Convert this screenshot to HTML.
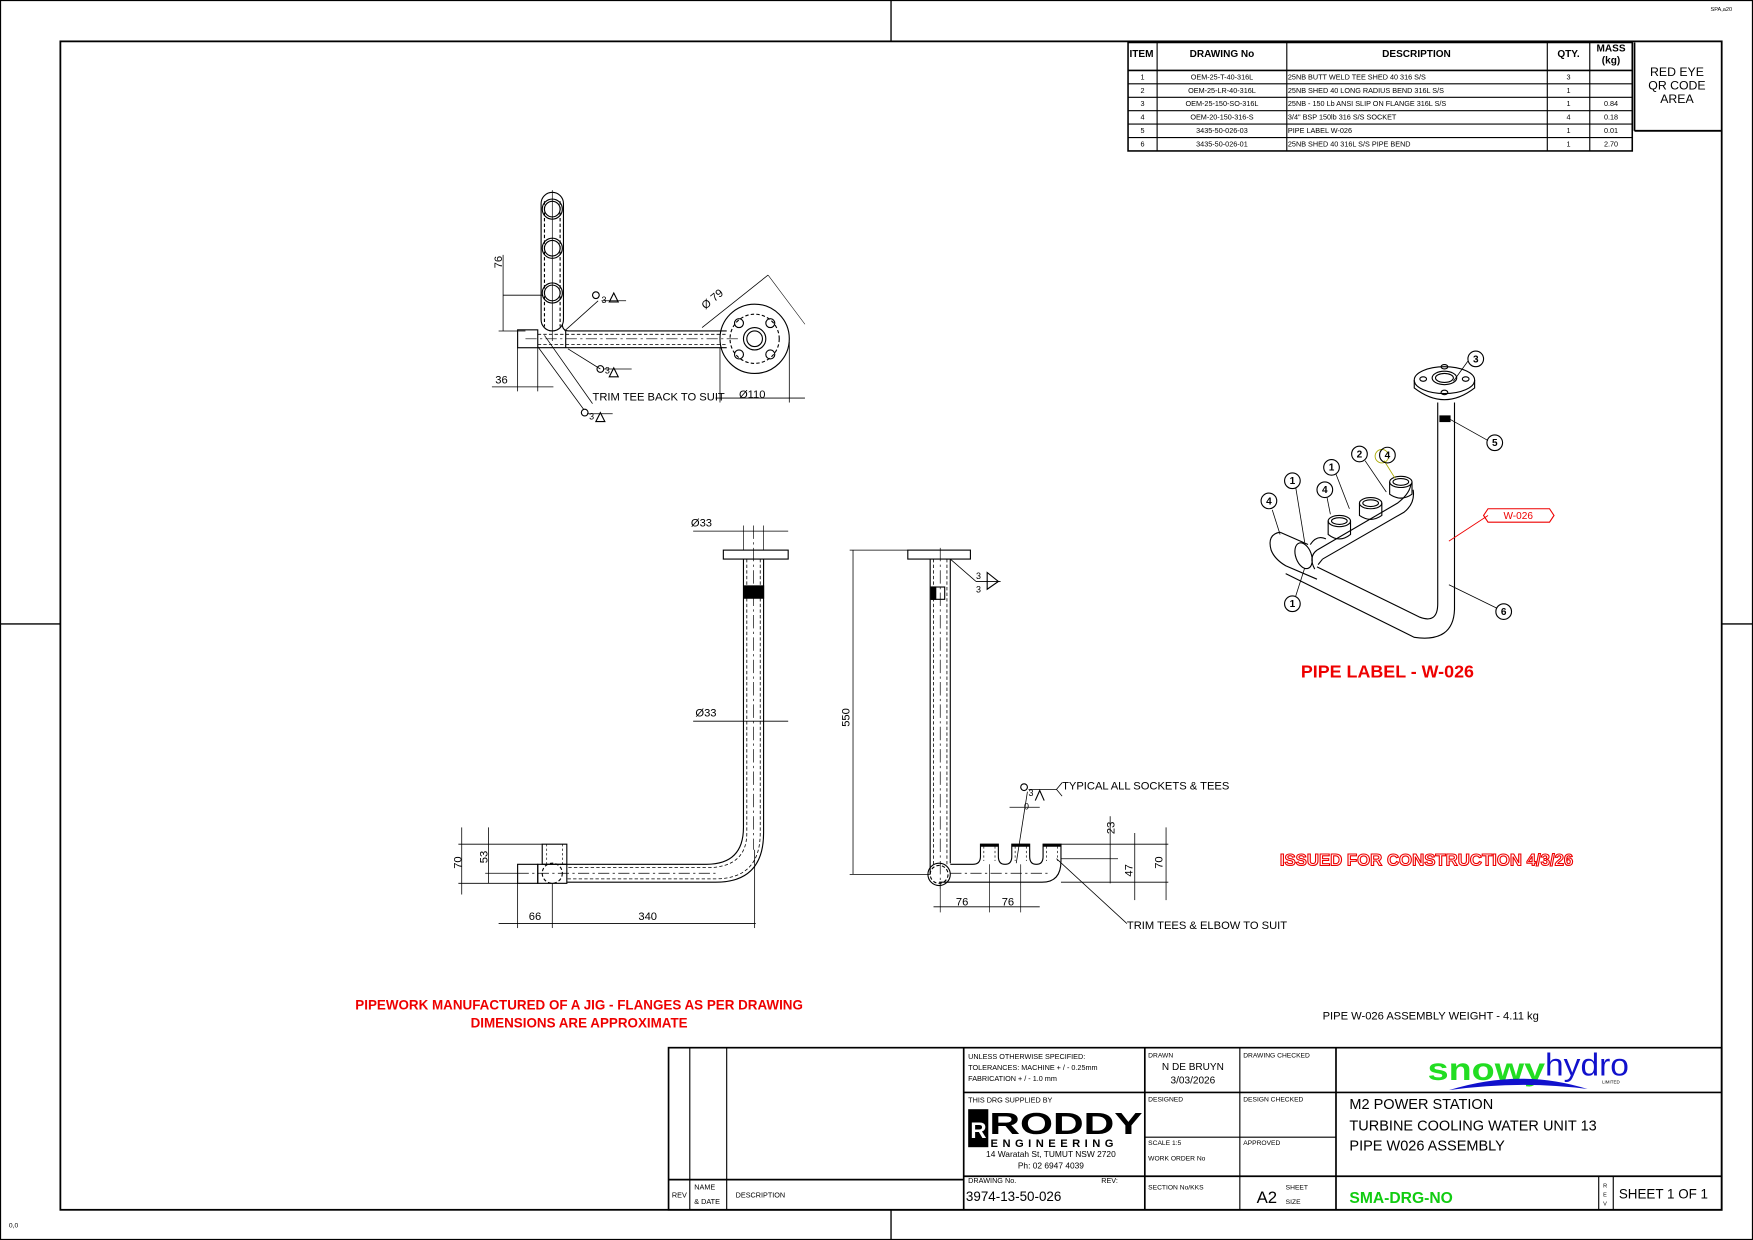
<!DOCTYPE html>
<html><head><meta charset="utf-8"><style>
html,body{margin:0;padding:0;background:#fff;}
svg{display:block;}
text{font-family:"Liberation Sans",sans-serif;fill:#000;}
</style></head><body>
<svg width="1753" height="1240" viewBox="0 0 1568 1109" preserveAspectRatio="none" xmlns="http://www.w3.org/2000/svg">
<rect width="1568" height="1109" fill="#fff"/>
<rect x="0.5" y="0.5" width="1567" height="1108" fill="none" stroke="#000" stroke-width="1"/>
<rect x="54" y="37" width="1486" height="1045" fill="none" stroke="#000" stroke-width="1.6"/>
<g stroke="#000" stroke-width="1.2">
<line x1="797" y1="0" x2="797" y2="37"/><line x1="797" y1="1082" x2="797" y2="1109"/>
<line x1="0" y1="558" x2="54" y2="558"/><line x1="1540" y1="558" x2="1568" y2="558"/>
</g>
<text x="1530" y="10" font-size="5">SPA,a20</text>
<text x="8" y="1098" font-size="6">0,0</text>

<!-- BOM -->
<g stroke="#000" fill="none" stroke-width="1">
<rect x="1009" y="38" width="451" height="97" stroke-width="1.4"/>
<line x1="1009" y1="63" x2="1460" y2="63" stroke-width="1.4"/>
<line x1="1009" y1="75" x2="1460" y2="75"/><line x1="1009" y1="87" x2="1460" y2="87"/>
<line x1="1009" y1="99" x2="1460" y2="99"/><line x1="1009" y1="111" x2="1460" y2="111"/>
<line x1="1009" y1="123" x2="1460" y2="123"/>
<line x1="1035" y1="38" x2="1035" y2="135"/><line x1="1151" y1="38" x2="1151" y2="135"/>
<line x1="1384" y1="38" x2="1384" y2="135"/><line x1="1422" y1="38" x2="1422" y2="135"/>
<line x1="1462" y1="38" x2="1462" y2="117" stroke-width="1.6"/><line x1="1462" y1="117" x2="1540" y2="117" stroke-width="1.6"/>
</g>
<g font-size="9" font-weight="bold" text-anchor="middle">
<text x="1021" y="51">ITEM</text><text x="1093" y="51">DRAWING No</text><text x="1267" y="51">DESCRIPTION</text>
<text x="1403" y="51">QTY.</text><text x="1441" y="46">MASS</text><text x="1441" y="57">(kg)</text>
</g>
<g font-size="6.5" text-anchor="middle">
<text x="1022" y="71">1</text><text x="1022" y="83">2</text><text x="1022" y="95">3</text><text x="1022" y="107">4</text><text x="1022" y="119">5</text><text x="1022" y="131">6</text>
<text x="1093" y="71">OEM-25-T-40-316L</text><text x="1093" y="83">OEM-25-LR-40-316L</text><text x="1093" y="95">OEM-25-150-SO-316L</text>
<text x="1093" y="107">OEM-20-150-316-S</text><text x="1093" y="119">3435-50-026-03</text><text x="1093" y="131">3435-50-026-01</text>
<text x="1403" y="71">3</text><text x="1403" y="83">1</text><text x="1403" y="95">1</text><text x="1403" y="107">4</text><text x="1403" y="119">1</text><text x="1403" y="131">1</text>
<text x="1441" y="95">0.84</text><text x="1441" y="107">0.18</text><text x="1441" y="119">0.01</text><text x="1441" y="131">2.70</text>
</g>
<g font-size="6.5">
<text x="1152" y="71">25NB BUTT WELD TEE SHED 40 316 S/S</text>
<text x="1152" y="83">25NB SHED 40 LONG RADIUS BEND 316L S/S</text>
<text x="1152" y="95">25NB - 150 Lb ANSI SLIP ON FLANGE 316L S/S</text>
<text x="1152" y="107">3/4" BSP 150lb 316 S/S SOCKET</text>
<text x="1152" y="119">PIPE LABEL W-026</text>
<text x="1152" y="131">25NB SHED 40 316L S/S PIPE BEND</text>
</g>
<g font-size="11" text-anchor="middle"><text x="1500" y="68">RED EYE</text><text x="1500" y="80">QR CODE</text><text x="1500" y="92">AREA</text></g>

<!-- Top-left view -->
<g stroke="#000" fill="none" stroke-width="1">
<rect x="484" y="172" width="20" height="124" rx="10"/>
<line x1="487" y1="180" x2="487" y2="292" stroke-dasharray="3,2"/><line x1="501" y1="180" x2="501" y2="292" stroke-dasharray="3,2"/>
<circle cx="494" cy="187" r="9"/><circle cx="494" cy="187" r="7"/>
<circle cx="494" cy="222" r="9"/><circle cx="494" cy="222" r="7"/>
<circle cx="494" cy="262" r="9"/><circle cx="494" cy="262" r="7"/>
<line x1="494" y1="170" x2="494" y2="305" stroke-width="0.6"/>
<rect x="463" y="295" width="18" height="16"/>
<path d="M481 311 L650 311 M503 290 Q503 296 509 296 L650 296"/>
<line x1="506" y1="296" x2="506" y2="311"/>
<line x1="470" y1="303" x2="660" y2="303" stroke-dasharray="10,3,2,3" stroke-width="0.6"/>
<line x1="481" y1="299" x2="650" y2="299" stroke-dasharray="3,2" stroke-width="0.7"/>
<line x1="481" y1="308" x2="650" y2="308" stroke-dasharray="3,2" stroke-width="0.7"/>
<circle cx="675" cy="303" r="31"/>
<circle cx="675" cy="303" r="22" stroke-dasharray="3,2"/>
<circle cx="675" cy="303" r="10"/><circle cx="675" cy="303" r="7"/>
<circle cx="661" cy="289" r="4"/><circle cx="689" cy="289" r="4"/><circle cx="661" cy="317" r="4"/><circle cx="689" cy="317" r="4"/>
<line x1="450" y1="228" x2="450" y2="296" stroke-width="0.7"/>
<line x1="450" y1="264" x2="486" y2="264" stroke-width="0.7"/><line x1="446" y1="296" x2="470" y2="296" stroke-width="0.7"/>
<line x1="463" y1="311" x2="463" y2="350" stroke-width="0.7"/><line x1="481" y1="311" x2="481" y2="350" stroke-width="0.7"/>
<line x1="440" y1="346" x2="495" y2="346" stroke-width="0.7"/>
<line x1="644" y1="311" x2="644" y2="360" stroke-width="0.7"/><line x1="706" y1="306" x2="706" y2="360" stroke-width="0.7"/>
<line x1="640" y1="356" x2="720" y2="356" stroke-width="0.7"/>
<line x1="628" y1="293" x2="687" y2="246" stroke-width="0.7"/>
<line x1="687" y1="246" x2="720" y2="290" stroke-width="0.5"/>
<line x1="505" y1="296" x2="535" y2="269" stroke-width="0.7"/>
<line x1="538" y1="269" x2="560" y2="269" stroke-width="0.7"/>
<line x1="508" y1="312" x2="537" y2="330" stroke-width="0.7"/>
<line x1="540" y1="330" x2="565" y2="330" stroke-width="0.7"/>
<line x1="481" y1="310" x2="522" y2="366" stroke-width="0.7"/>
<line x1="525" y1="370" x2="548" y2="370" stroke-width="0.7"/>
<line x1="487" y1="300" x2="530" y2="361" stroke-width="0.7"/>
<circle cx="533" cy="264" r="3"/><circle cx="537" cy="330" r="3"/><circle cx="523" cy="369" r="3"/>
<path d="M545 270 L549 262 L553 270 Z M545 337 L549 329 L553 337 Z M533 377 L537 369 L541 377 Z"/>
</g>
<g font-size="10">
<text x="449" y="240" transform="rotate(-90 449 240)">76</text>
<text x="443" y="343">36</text>
<text x="530" y="358">TRIM TEE BACK TO SUIT</text>
<text x="661" y="356">Ø110</text>
<text x="631" y="277" transform="rotate(-40 631 277)">Ø 79</text>
<text x="538" y="271" font-size="8">3</text><text x="541" y="334" font-size="8">3</text><text x="527" y="375" font-size="8">3</text>
</g>

<!-- Lower-left view -->
<g stroke="#000" fill="none" stroke-width="1">
<rect x="647" y="492" width="58" height="8"/>
<path d="M665 500 L665 740 Q665 773 632 773 L507 773 M683 500 L683 745 Q683 789 640 789 L507 789"/>
<line x1="668" y1="500" x2="668" y2="745" stroke-dasharray="3,2" stroke-width="0.7"/>
<line x1="680" y1="500" x2="680" y2="745" stroke-dasharray="3,2" stroke-width="0.7"/>
<path d="M668 745 Q668 776 632 776 L507 776 M680 745 Q680 786 640 786 L507 786" stroke-dasharray="3,2" stroke-width="0.7"/>
<line x1="674" y1="470" x2="674" y2="760" stroke-dasharray="12,3,2,3" stroke-width="0.6"/>
<rect x="666" y="524" width="17" height="11" fill="#000"/>
<rect x="463" y="773" width="18" height="17"/>
<rect x="485" y="755" width="22" height="18"/>
<line x1="489" y1="755" x2="489" y2="773" stroke-dasharray="2,2" stroke-width="0.6"/><line x1="503" y1="755" x2="503" y2="773" stroke-dasharray="2,2" stroke-width="0.6"/>
<rect x="481" y="773" width="26" height="17"/>
<circle cx="494" cy="781" r="9" stroke-dasharray="3,2"/>
<line x1="463" y1="781" x2="640" y2="781" stroke-dasharray="10,3,2,3" stroke-width="0.6"/>
<line x1="620" y1="475" x2="705" y2="475" stroke-width="0.7"/>
<line x1="620" y1="645" x2="705" y2="645" stroke-width="0.7"/>
<line x1="665" y1="470" x2="665" y2="492" stroke-width="0.6"/><line x1="683" y1="470" x2="683" y2="492" stroke-width="0.6"/>
<line x1="413" y1="740" x2="413" y2="800" stroke-width="0.7"/><line x1="437" y1="740" x2="437" y2="790" stroke-width="0.7"/>
<line x1="410" y1="755" x2="485" y2="755" stroke-width="0.7"/><line x1="410" y1="790" x2="463" y2="790" stroke-width="0.7"/>
<line x1="434" y1="781" x2="463" y2="781" stroke-width="0.7"/>
<line x1="463" y1="790" x2="463" y2="830" stroke-width="0.7"/><line x1="494" y1="790" x2="494" y2="830" stroke-width="0.7"/>
<line x1="675" y1="760" x2="675" y2="830" stroke-width="0.7"/>
<line x1="446" y1="826" x2="676" y2="826" stroke-width="0.7"/>
</g>
<g font-size="10">
<text x="618" y="471">Ø33</text><text x="622" y="641">Ø33</text>
<text x="413" y="777" transform="rotate(-90 413 777)">70</text>
<text x="436" y="772" transform="rotate(-90 436 772)">53</text>
<text x="473" y="823">66</text><text x="571" y="823">340</text>
</g>

<!-- Middle view -->
<g stroke="#000" fill="none" stroke-width="1">
<rect x="812" y="492" width="56" height="8"/>
<line x1="832" y1="500" x2="832" y2="782"/><line x1="850" y1="500" x2="850" y2="772"/>
<line x1="835" y1="500" x2="835" y2="775" stroke-dasharray="3,2" stroke-width="0.7"/>
<line x1="847" y1="500" x2="847" y2="775" stroke-dasharray="3,2" stroke-width="0.7"/>
<line x1="841" y1="490" x2="841" y2="795" stroke-dasharray="12,3,2,3" stroke-width="0.6"/>
<rect x="833" y="525" width="12" height="11"/><rect x="833" y="525" width="4" height="11" fill="#000"/>
<circle cx="840" cy="782" r="10"/><circle cx="840" cy="782" r="8" stroke-dasharray="3,2"/>
<path d="M850 773 L870 773 Q877 773 877 766 L877 755 L893 755 L893 766 Q893 773 899 773 Q905 773 905 766 L905 755 L921 755 L921 766 Q921 773 927 773 Q933 773 933 766 L933 755 L949 755 L949 770 Q949 789 932 789 L840 789"/>
<line x1="877" y1="756" x2="893" y2="756" stroke-width="2.5"/><line x1="905" y1="756" x2="921" y2="756" stroke-width="2.5"/><line x1="933" y1="756" x2="949" y2="756" stroke-width="2.5"/>
<line x1="880" y1="757" x2="880" y2="770" stroke-dasharray="2,2" stroke-width="0.6"/><line x1="890" y1="757" x2="890" y2="770" stroke-dasharray="2,2" stroke-width="0.6"/>
<line x1="908" y1="757" x2="908" y2="770" stroke-dasharray="2,2" stroke-width="0.6"/><line x1="918" y1="757" x2="918" y2="770" stroke-dasharray="2,2" stroke-width="0.6"/>
<line x1="936" y1="757" x2="936" y2="770" stroke-dasharray="2,2" stroke-width="0.6"/><line x1="946" y1="757" x2="946" y2="770" stroke-dasharray="2,2" stroke-width="0.6"/>
<line x1="850" y1="781" x2="940" y2="781" stroke-dasharray="10,3,2,3" stroke-width="0.6"/>
<line x1="760" y1="492" x2="812" y2="492" stroke-width="0.7"/><line x1="760" y1="782" x2="832" y2="782" stroke-width="0.7"/>
<line x1="763" y1="492" x2="763" y2="782" stroke-width="0.7"/>
<line x1="841" y1="790" x2="841" y2="816" stroke-width="0.6"/><line x1="885" y1="773" x2="885" y2="816" stroke-width="0.6"/><line x1="913" y1="773" x2="913" y2="816" stroke-width="0.6"/>
<line x1="835" y1="811" x2="930" y2="811" stroke-width="0.7"/>
<line x1="949" y1="755" x2="1045" y2="755" stroke-width="0.7"/><line x1="949" y1="768" x2="1000" y2="768" stroke-width="0.7"/>
<line x1="949" y1="789" x2="1045" y2="789" stroke-width="0.7"/>
<line x1="993" y1="730" x2="993" y2="790" stroke-width="0.7"/><line x1="1015" y1="745" x2="1015" y2="805" stroke-width="0.7"/>
<line x1="1043" y1="740" x2="1043" y2="805" stroke-width="0.7"/>
<line x1="903" y1="722" x2="930" y2="722" stroke-width="0.7"/>
<line x1="919" y1="708" x2="909" y2="772" stroke-width="0.7"/>
<line x1="920" y1="706" x2="945" y2="706" stroke-width="0.7"/>
<line x1="945" y1="706" x2="950" y2="700" stroke-width="0.7"/><line x1="945" y1="706" x2="950" y2="712" stroke-width="0.7"/>
<circle cx="916" cy="704" r="3"/>
<path d="M926 716 L930 707 L934 716"/>
<line x1="850" y1="500" x2="873" y2="520" stroke-width="0.7"/>
<line x1="873" y1="520" x2="895" y2="520" stroke-width="0.7"/>
<path d="M883 512 L883 527 L893 520 Z"/>
<line x1="945" y1="768" x2="1008" y2="826" stroke-width="0.7"/>
</g>
<g font-size="10">
<text x="760" y="650" transform="rotate(-90 760 650)">550</text>
<text x="855" y="810">76</text><text x="896" y="810">76</text>
<text x="916" y="724" font-size="8">0</text>
<text x="920" y="712" font-size="8">3</text><text x="873" y="518" font-size="8">3</text><text x="873" y="530" font-size="8">3</text>
<text x="950" y="706">TYPICAL ALL SOCKETS &amp; TEES</text>
<text x="997" y="746" transform="rotate(-90 997 746)">23</text>
<text x="1013" y="784" transform="rotate(-90 1013 784)">47</text>
<text x="1040" y="777" transform="rotate(-90 1040 777)">70</text>
<text x="1008" y="831">TRIM TEES &amp; ELBOW TO SUIT</text>
</g>

<!-- Isometric view -->
<g stroke="#000" fill="none" stroke-width="1">
<ellipse cx="1292" cy="340" rx="27" ry="12" fill="#fff"/>
<path d="M1265 340 L1265 347 Q1292 368 1319 347 L1319 340"/>
<ellipse cx="1292" cy="338" rx="11" ry="6"/><ellipse cx="1292" cy="338" rx="8" ry="4"/>
<ellipse cx="1292" cy="328" rx="3" ry="2"/><ellipse cx="1292" cy="351" rx="3" ry="2"/><ellipse cx="1273" cy="339" rx="3" ry="2"/><ellipse cx="1311" cy="339" rx="3" ry="2"/>
<path d="M1286 360 L1286 540 Q1286 558 1270 552 L1178 507"/>
<path d="M1301 360 L1301 545 Q1300 575 1265 570 L1150 513"/>
<rect x="1288" y="372" width="9" height="5" fill="#000"/>
<!-- tee -->
<path d="M1145 476 Q1133 478 1137 492 Q1140 500 1150 506 L1178 518"/>
<path d="M1145 476 L1170 487"/>
<ellipse cx="1166" cy="497" rx="7" ry="12" transform="rotate(-20 1166 497)"/>
<path d="M1176 509 Q1170 498 1178 492"/>
<path d="M1172 487 Q1178 478 1186 482"/>
<!-- diagonal branch -->
<path d="M1178 492 L1250 450 Q1263 440 1262 430"/>
<path d="M1183 500 L1256 458 Q1266 450 1264 438"/>
<path d="M1179 505 L1183 500"/>
<ellipse cx="1198" cy="466" rx="10" ry="5" fill="#fff"/><path d="M1188 466 L1188 478 Q1198 486 1208 478 L1208 466"/>
<ellipse cx="1198" cy="466" rx="7" ry="3"/>
<ellipse cx="1226" cy="450" rx="10" ry="5" fill="#fff"/><path d="M1216 450 L1216 461 Q1226 468 1236 461 L1236 450"/>
<ellipse cx="1226" cy="450" rx="7" ry="3"/>
<ellipse cx="1253" cy="431" rx="10" ry="5" fill="#fff"/><path d="M1243 431 L1243 442 Q1253 449 1263 442 L1263 431"/>
<ellipse cx="1253" cy="431" rx="7" ry="3"/>
<g stroke-width="0.7">
<line x1="1300" y1="341" x2="1313" y2="323"/><line x1="1297" y1="375" x2="1331" y2="394"/>
<line x1="1296" y1="523" x2="1339" y2="544"/><line x1="1159" y1="436" x2="1167" y2="485"/>
<line x1="1195" y1="424" x2="1207" y2="455"/><line x1="1221" y1="412" x2="1240" y2="440"/>
<line x1="1187" y1="445" x2="1190" y2="460"/><line x1="1138" y1="456" x2="1145" y2="478"/>
<line x1="1159" y1="533" x2="1167" y2="508"/>
</g>
<line x1="1296" y1="484" x2="1331" y2="461" stroke="#e00" stroke-width="0.8"/>
<path d="M1331 455 L1386 455 L1390 461 L1386 467 L1331 467 L1327 461 Z" stroke="#e00"/>
<circle cx="1236" cy="408" r="6" stroke="#aa0" stroke-width="0.8"/>
<line x1="1238" y1="412" x2="1248" y2="428" stroke="#aa0" stroke-width="0.8"/>
<circle cx="1320" cy="321" r="7"/><circle cx="1337" cy="396" r="7"/><circle cx="1156" cy="430" r="7"/>
<circle cx="1191" cy="418" r="7"/><circle cx="1216" cy="406" r="7"/><circle cx="1241" cy="407" r="7"/>
<circle cx="1185" cy="438" r="7"/><circle cx="1135" cy="448" r="7"/><circle cx="1156" cy="540" r="7"/><circle cx="1345" cy="547" r="7"/>
</g>
<g font-size="9" font-weight="bold" text-anchor="middle">
<text x="1320" y="324">3</text><text x="1337" y="399">5</text><text x="1156" y="433">1</text><text x="1191" y="421">1</text>
<text x="1216" y="409">2</text><text x="1241" y="410">4</text><text x="1185" y="441">4</text><text x="1135" y="451">4</text>
<text x="1156" y="543">1</text><text x="1345" y="550">6</text>
</g>
<text x="1358" y="464" font-size="9" text-anchor="middle" style="fill:#e00">W-026</text>

<!-- red notes -->
<text x="1241" y="606" font-size="16" font-weight="bold" text-anchor="middle" style="fill:#e00">PIPE LABEL - W-026</text>
<text x="1276" y="774" font-size="15" font-weight="bold" text-anchor="middle" style="fill:#fff;stroke:#e00;stroke-width:1">ISSUED FOR CONSTRUCTION 4/3/26</text>
<text x="518" y="903" font-size="12" font-weight="bold" text-anchor="middle" style="fill:#e00">PIPEWORK MANUFACTURED OF A JIG - FLANGES AS PER DRAWING</text>
<text x="518" y="919" font-size="12" font-weight="bold" text-anchor="middle" style="fill:#e00">DIMENSIONS ARE APPROXIMATE</text>
<text x="1183" y="912" font-size="10">PIPE W-026 ASSEMBLY WEIGHT -  4.11 kg</text>

<!-- title block -->
<g stroke="#000" fill="none" stroke-width="1.5">
<rect x="598" y="937" width="942" height="145"/>
<line x1="617" y1="937" x2="617" y2="1082" stroke-width="1"/><line x1="650" y1="937" x2="650" y2="1082" stroke-width="1"/>
<line x1="598" y1="1055" x2="862" y2="1055"/>
<line x1="862" y1="937" x2="862" y2="1082"/><line x1="1024" y1="937" x2="1024" y2="1082"/>
<line x1="1109" y1="937" x2="1109" y2="1082" stroke-width="1"/><line x1="1195" y1="937" x2="1195" y2="1082"/>
<line x1="862" y1="977" x2="1540" y2="977"/>
<line x1="862" y1="1052" x2="1540" y2="1052"/>
<line x1="1024" y1="1017" x2="1195" y2="1017" stroke-width="1"/>
<line x1="1430" y1="1052" x2="1430" y2="1082" stroke-width="1"/><line x1="1443" y1="1052" x2="1443" y2="1082" stroke-width="1"/>
</g>
<g font-size="6.5">
<text x="866" y="947">UNLESS OTHERWISE SPECIFIED:</text>
<text x="866" y="957">TOLERANCES: MACHINE + / - 0.25mm</text>
<text x="866" y="967">FABRICATION + / - 1.0 mm</text>
<text x="866" y="986">THIS DRG SUPPLIED BY</text>
<text x="866" y="1058">DRAWING No.</text><text x="985" y="1058">REV:</text>
<text x="1027" y="946" font-size="6">DRAWN</text><text x="1112" y="946" font-size="6">DRAWING CHECKED</text>
<text x="1027" y="985" font-size="6">DESIGNED</text><text x="1112" y="985" font-size="6">DESIGN CHECKED</text>
<text x="1027" y="1024" font-size="6">SCALE  1:5</text><text x="1027" y="1038" font-size="6">WORK ORDER No</text>
<text x="1112" y="1024" font-size="6">APPROVED</text>
<text x="1027" y="1064" font-size="6">SECTION No/KKS</text>
<text x="1150" y="1064" font-size="6">SHEET</text><text x="1150" y="1077" font-size="6">SIZE</text>
<text x="601" y="1071">REV</text><text x="621" y="1064">NAME</text><text x="621" y="1077">&amp; DATE</text><text x="658" y="1071">DESCRIPTION</text>
</g>
<g font-size="9" text-anchor="middle"><text x="1067" y="957">N DE BRUYN</text><text x="1067" y="969">3/03/2026</text></g>
<text x="864" y="1074" font-size="12">3974-13-50-026</text>
<text x="1124" y="1076" font-size="15">A2</text>
<text x="1207" y="992" font-size="13">M2 POWER STATION</text>
<text x="1207" y="1011" font-size="13">TURBINE COOLING WATER UNIT 13</text>
<text x="1207" y="1029" font-size="13">PIPE W026 ASSEMBLY</text>
<text x="1207" y="1076" font-size="14" font-weight="bold" style="fill:#1c1">SMA-DRG-NO</text>
<text x="1448" y="1072" font-size="12">SHEET 1 OF 1</text>
<text x="1434" y="1062" font-size="5">R</text><text x="1434" y="1070" font-size="5">E</text><text x="1434" y="1078" font-size="5">V</text>
<rect x="866" y="992" width="18" height="34" fill="#000"/>
<text x="868" y="1018" font-size="20" font-weight="bold" style="fill:#fff">R</text>
<text x="885" y="1014" font-size="27" font-weight="bold" textLength="137" lengthAdjust="spacingAndGlyphs">RODDY</text>
<text x="886" y="1026" font-size="10" font-weight="bold" letter-spacing="4">ENGINEERING</text>
<text x="940" y="1035" font-size="7.5" text-anchor="middle">14 Waratah St, TUMUT NSW 2720</text>
<text x="940" y="1045" font-size="7.5" text-anchor="middle">Ph: 02 6947 4039</text>
<text x="1277" y="966" font-size="28" font-weight="bold" style="fill:#2d2" textLength="105" lengthAdjust="spacingAndGlyphs">snowy</text>
<text x="1382" y="962" font-size="28" style="fill:#11c" textLength="75" lengthAdjust="spacingAndGlyphs">hydro</text>
<path d="M1296 975 Q1360 955 1420 974 Q1360 966 1296 975 Z" fill="#11c"/>
<text x="1433" y="969" font-size="4">LIMITED</text>
</svg>
</body></html>
